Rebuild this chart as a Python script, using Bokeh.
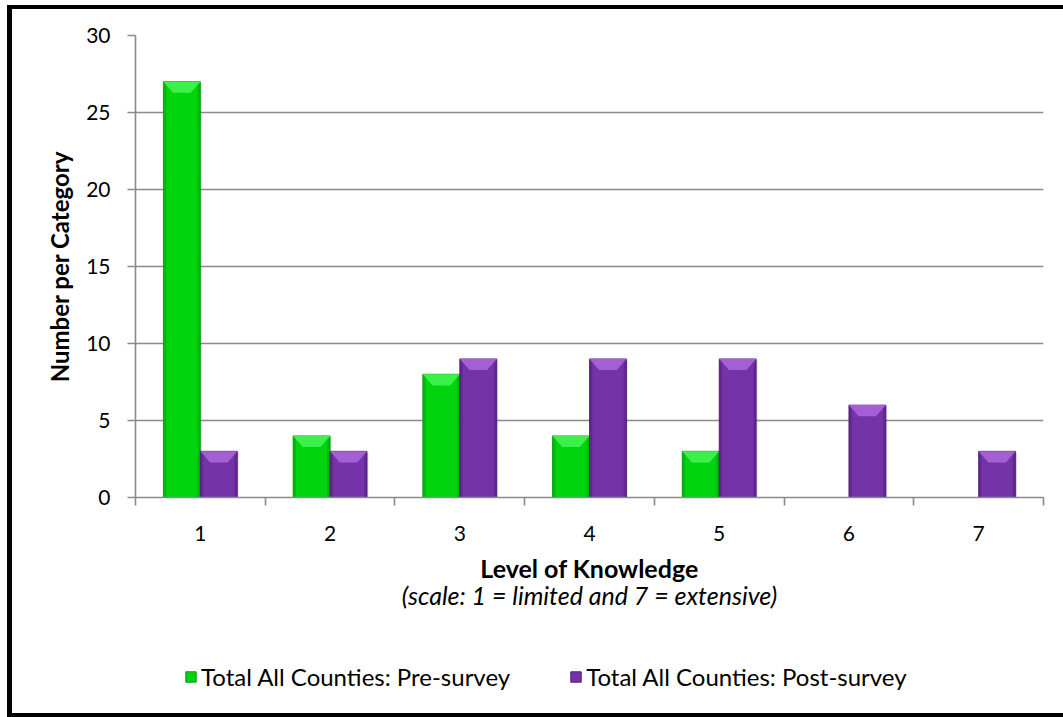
from bokeh.embed import file_html
from bokeh.layouts import column
from bokeh.models import (FixedTicker, Label, Legend, LegendItem,
                          SingleIntervalTicker)
from bokeh.plotting import figure
from bokeh.resources import INLINE

# Survey responses: self-rated level of knowledge (1 = limited, 7 = extensive)
levels = [1, 2, 3, 4, 5, 6, 7]
level_labels = ["1", "2", "3", "4", "5", "6", "7"]
pre_survey = [27, 4, 8, 4, 3, 0, 0]
post_survey = [3, 3, 9, 9, 9, 6, 3]
series_names = ["Total All Counties: Pre-survey", "Total All Counties: Post-survey"]
x_title = "Level of Knowledge"
x_note = "(scale: 1 = limited and 7 = extensive)"
y_title = "Number per Category"

FONT = "Lato"
BAR_W = 0.285          # width of each bar, in category units
BEVEL_H = 0.72         # height of the lit top face, in value units
BEVEL_INSET = 0.075    # how far the lit face narrows at its lower edge
EDGE_W = 0.022         # shaded side strips

GREEN = ("#00d40e", "#3cf04a", "#009a0a")    # body, lit face, edge
PURPLE = ("#7434a8", "#a55fd6", "#4e1a78")

p = figure(
    width=1063, height=550,
    x_range=(0.5, 7.5), y_range=(0, 30),
    output_backend="svg", toolbar_location=None,
    min_border_left=135, min_border_right=20,
    min_border_top=35, min_border_bottom=53,
)
p.border_fill_alpha = 0
p.background_fill_color = "white"
p.outline_line_color = None

# grid: horizontal lines only
p.xgrid.grid_line_color = None
p.ygrid.grid_line_color = "#8a8a8a"
p.ygrid.grid_line_width = 1.6

# y axis
p.yaxis.ticker = SingleIntervalTicker(interval=5, num_minor_ticks=0)
p.yaxis.axis_line_color = "#8a8a8a"
p.yaxis.axis_line_width = 1.6
p.yaxis.major_tick_line_color = "#8a8a8a"
p.yaxis.major_tick_line_width = 1.6
p.yaxis.major_tick_out = 8
p.yaxis.major_tick_in = 0
p.yaxis.minor_tick_line_color = None
p.yaxis.major_label_standoff = 17
p.yaxis.major_label_text_font = FONT
p.yaxis.major_label_text_font_size = "21px"
p.yaxis.major_label_text_color = "black"
p.yaxis.axis_label = y_title
p.yaxis.axis_label_standoff = 9
p.yaxis.axis_label_text_font = FONT
p.yaxis.axis_label_text_font_style = "bold"
p.yaxis.axis_label_text_font_size = "24px"
p.yaxis.axis_label_text_color = "black"

# x axis: labels at category centres, tick marks between categories
p.xaxis.ticker = FixedTicker(ticks=levels,
                             minor_ticks=[l - 0.5 for l in levels] + [levels[-1] + 0.5])
p.xaxis.major_label_overrides = {l: s for l, s in zip(levels, level_labels)}
p.xaxis.axis_line_color = "#8a8a8a"
p.xaxis.axis_line_width = 1.6
p.xaxis.major_tick_line_color = None
p.xaxis.major_tick_out = 8
p.xaxis.major_tick_in = 0
p.xaxis.minor_tick_line_color = "#8a8a8a"
p.xaxis.minor_tick_line_width = 1.6
p.xaxis.minor_tick_out = 8
p.xaxis.minor_tick_in = 0
p.xaxis.major_label_standoff = 20
p.xaxis.major_label_text_font = FONT
p.xaxis.major_label_text_font_size = "21px"
p.xaxis.major_label_text_color = "black"


def draw_series(values, offset, colors):
    body, face, edge = colors
    xs = [l + offset for l in levels]
    # soft drop shadow
    p.vbar(x=[x + 0.012 for x in xs], top=[v - 0.08 if v > 0 else 0 for v in values],
           width=BAR_W, bottom=0, fill_color="#000000", fill_alpha=0.10, line_color=None)
    p.vbar(x=xs, top=values, width=BAR_W, bottom=0,
           fill_color=body, line_color=edge, line_width=1, line_alpha=0.8)
    shown = [(x, v) for x, v in zip(xs, values) if v > 0]
    # darker side strips
    p.vbar(x=[x - BAR_W / 2 + EDGE_W / 2 for x, _ in shown], top=[v for _, v in shown],
           width=EDGE_W, bottom=0, fill_color=edge, fill_alpha=0.45, line_color=None)
    p.vbar(x=[x + BAR_W / 2 - EDGE_W / 2 for x, _ in shown], top=[v for _, v in shown],
           width=EDGE_W, bottom=0, fill_color=edge, fill_alpha=0.45, line_color=None)
    # lit bevel face on top of each bar
    face_x, face_y = [], []
    for x, v in shown:
        l, r = x - BAR_W / 2, x + BAR_W / 2
        face_x.append([l, r, r - BEVEL_INSET, l + BEVEL_INSET])
        face_y.append([v, v, v - BEVEL_H, v - BEVEL_H])
    p.patches(face_x, face_y, fill_color=face, line_color=None)


draw_series(pre_survey, -BAR_W / 2, GREEN)
draw_series(post_survey, BAR_W / 2, PURPLE)

# strip under the chart: x-axis title, scale note and legend
# (its frame lines up horizontally with the chart's frame)
foot = figure(width=1063, height=167, x_range=(0, 1), y_range=(0, 1),
              x_axis_type=None, y_axis_type=None,
              output_backend="svg", toolbar_location=None,
              min_border=0)
foot.border_fill_alpha = 0
foot.background_fill_alpha = 0
foot.outline_line_color = None
foot.grid.grid_line_color = None

foot.add_layout(Label(x=454, y=150, x_units="screen", y_units="screen",
                      text=x_title, text_align="center", text_baseline="middle",
                      text_font=FONT, text_font_style="bold", text_font_size="25px",
                      text_color="black"))
foot.add_layout(Label(x=454, y=123, x_units="screen", y_units="screen",
                      text=x_note, text_align="center", text_baseline="middle",
                      text_font=FONT, text_font_style="italic", text_font_size="25px",
                      text_color="black"))

# zero-size swatch renderers: only their legend entries show
swatches = [foot.vbar(x=[0.5], top=[0.5], bottom=0.5, width=0,
                      fill_color=c[0], line_color=c[2])
            for c in (GREEN, PURPLE)]
legend = Legend(
    items=[LegendItem(label=n, renderers=[r]) for n, r in zip(series_names, swatches)],
    location=(49, 26), orientation="horizontal",
    glyph_width=13, glyph_height=13, label_standoff=4, spacing=59,
    padding=0, margin=0, border_line_alpha=0, background_fill_alpha=0,
    label_text_font=FONT, label_text_font_size="24px", label_text_color="black",
)
foot.add_layout(legend)

page = column(p, foot, spacing=0)
# black frame round the chart (left, top and bottom edges)
page.styles = {
    "background": (
        "linear-gradient(#000,#000) 7px 5px / 5px 712px no-repeat, "
        "linear-gradient(#000,#000) 7px 5px / 1056px 4px no-repeat, "
        "linear-gradient(#000,#000) 7px 713px / 1056px 4px no-repeat, #fff"
    ),
}

open("out.html", "w").write(file_html(page, INLINE))
